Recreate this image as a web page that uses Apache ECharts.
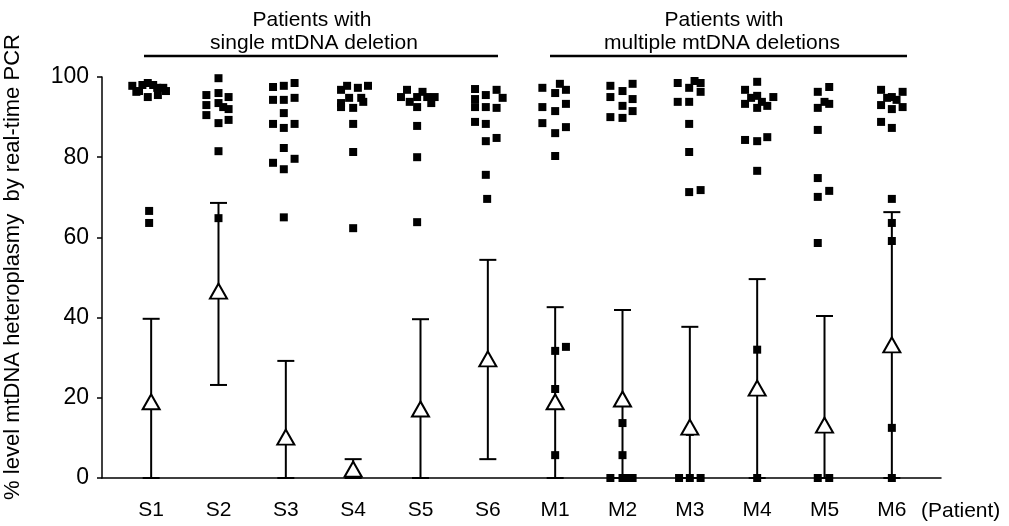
<!DOCTYPE html>
<html><head><meta charset="utf-8">
<script src="https://cdn.jsdelivr.net/npm/echarts@6/dist/echarts.min.js"></script>
<style>html,body{margin:0;padding:0;background:#fff}#chart{width:1009px;height:526px}</style>
</head><body><div id="chart"></div>
<script>
const patients = ['S1','S2','S3','S4','S5','S6','M1','M2','M3','M4','M5','M6'];
const yTicks = [0, 20, 40, 60, 80, 100];
const meanValues  = [19, 46.6, 10.2, 2.2, 17.2, 29.7, 19, 19.7, 12.7, 22.4, 13.2, 33.2];
const lowerValues = [0, 23.2, 0, 0, 0, 4.7, 0, 0, 0, 0, 0, 0];
const upperValues = [39.7, 68.6, 29.2, 4.7, 39.6, 54.4, 42.6, 41.9, 37.7, 49.6, 40.4, 66.3];
// per patient: [horizontal jitter inside the column (category units), % heteroplasmy]
const samplesS1 = [[-0.28,97.8],[-0.22,96.3],[-0.18,96.5],[-0.13,98],[-0.05,98.5],[-0.05,95],[0.03,98],[0.09,97.3],[0.10,95.5],[0.18,97.3],[0.22,96.5],[-0.03,66.6],[-0.03,63.6]];
const samplesS2 = [[0,99.7],[-0.18,95.5],[-0.18,93],[-0.18,90.5],[0,96],[0.15,95],[0,93.5],[0.07,92.5],[0.15,92],[0,88.5],[0.15,89.3],[0,81.5],[0,64.8]];
const samplesS3 = [[-0.19,97.5],[-0.19,94.3],[-0.03,97.8],[0.13,98.5],[-0.03,94.3],[0.13,94.8],[-0.03,91],[-0.19,88.3],[-0.03,87.3],[0.13,88.3],[-0.03,82.3],[-0.19,78.6],[0.13,79.6],[-0.03,77],[-0.03,65]];
const samplesS4 = [[-0.18,96.8],[-0.09,97.8],[0.07,97.3],[0.22,97.8],[-0.18,93.5],[-0.06,94.8],[0.12,94.8],[-0.18,92.5],[0,92.3],[0.15,93.8],[0,88.3],[0,81.3],[0,62.3]];
const samplesS5 = [[-0.29,95],[-0.2,96.8],[-0.16,93.8],[-0.05,95],[-0.05,92.5],[0.03,96.3],[0.1,95],[0.16,93.5],[0.21,95],[-0.05,87.8],[-0.05,80],[-0.05,63.8]];
const samplesS6 = [[-0.19,97],[-0.19,94.5],[-0.19,92.5],[-0.03,95.5],[0.13,96.8],[0.22,94.8],[-0.03,92.5],[0.13,92.3],[-0.19,88.8],[-0.03,88.3],[-0.03,84],[0.13,84.8],[-0.03,75.6],[-0.01,69.6]];
const samplesM1 = [[-0.19,97.3],[-0.19,92.5],[-0.19,88.5],[0,96],[0.07,98.3],[0.16,96.8],[0,91.5],[0.16,93.3],[0,86],[0.16,87.5],[0,80.3],[0,31.7],[0.16,32.7],[0,22.2],[0,5.7]];
const samplesM2 = [[-0.18,97.8],[-0.18,95],[0,96.5],[0.15,98.3],[0,92.8],[0.15,94.5],[0.15,91.5],[-0.18,90],[0,89.8],[0,13.7],[0,5.7],[-0.18,0],[0,0],[0.08,0],[0.15,0]];
const samplesM3 = [[-0.18,98.5],[-0.18,93.8],[-0.01,97.3],[0.07,99],[0.16,98.5],[0.16,96.3],[-0.01,93.8],[-0.01,88.3],[-0.01,81.3],[-0.01,71.3],[0.16,71.8],[0,11.5],[-0.16,0],[0,0],[0.16,0]];
const samplesM4 = [[0,98.8],[-0.18,96.8],[-0.18,93.3],[0,95.3],[-0.09,94.8],[0,92.3],[0.07,93.8],[0.15,92.8],[0.24,95],[-0.18,84.3],[0,84],[0.15,85],[0,76.6],[0,32],[0,0]];
const samplesM5 = [[-0.1,96.3],[0.07,97.5],[-0.1,92.3],[0,93.8],[0.07,93.3],[-0.1,86.8],[-0.1,74.8],[0.07,71.6],[-0.1,70.1],[-0.1,58.6],[-0.1,0],[0.07,0]];
const samplesM6 = [[-0.16,96.8],[0,95],[0.16,96.3],[0.07,94.3],[-0.07,94.8],[-0.16,93],[0,92],[0.16,92.5],[-0.16,88.8],[0,87.3],[0,69.6],[0,63.6],[0,59.1],[0,12.5],[0,0]];
const samples = [samplesS1,samplesS2,samplesS3,samplesS4,samplesS5,samplesS6,samplesM1,samplesM2,samplesM3,samplesM4,samplesM5,samplesM6];
const yAxisTitle = '% level mtDNA heteroplasmy  by real-time PCR';
const groupTitles = [['Patients with','single mtDNA deletion'],['Patients with','multiple mtDNA deletions']];
const xAxisUnit = '(Patient)';

const FONT = "'Liberation Sans', Arial, Helvetica, sans-serif";
const squareData = [];
samples.forEach((arr, i) => arr.forEach(([dx, v]) => squareData.push([i + dx, v])));
const barData = patients.map((_, i) => [i, lowerValues[i], upperValues[i]]);
const meanData = patients.map((_, i) => [i, meanValues[i]]);

const chart = echarts.init(document.getElementById('chart'), null, {renderer: 'canvas'});
const black = '#000';
const txt = (s, x, y, align) => ({type: 'text', x: x, y: y,
  style: {text: s, fontSize: 21, fontFamily: FONT, fill: black, align: align || 'center', verticalAlign: 'middle'}});
chart.setOption({
  animation: false,
  backgroundColor: '#fff',
  grid: {left: 102, right: 68, top: 77, bottom: 48, containLabel: false},
  xAxis: {
    type: 'value', min: -0.73, max: 11.73,
    axisLine: {show: true, onZero: false, lineStyle: {color: black, width: 1.5}},
    axisTick: {show: false},
    splitLine: {show: false},
    axisLabel: {
      customValues: patients.map((_, i) => i),
      formatter: v => patients[Math.round(v)] || '',
      fontSize: 21, color: black, fontFamily: FONT, margin: 22
    }
  },
  yAxis: {
    type: 'value', min: yTicks[0], max: yTicks[yTicks.length - 1], interval: 20,
    axisLine: {show: true, onZero: false, lineStyle: {color: black, width: 1.5}},
    axisTick: {show: true, length: 5, lineStyle: {color: black, width: 1.5}},
    splitLine: {show: false},
    axisLabel: {fontSize: 23, color: black, fontFamily: FONT, margin: 13}
  },
  graphic: [
    {type: 'text', x: 13, y: 267, rotation: Math.PI / 2,
     style: {text: yAxisTitle, fontSize: 22, fontFamily: FONT, fill: black, align: 'center', verticalAlign: 'middle'}},
    txt(groupTitles[0][0], 312, 20),
    txt(groupTitles[0][1], 314, 43),
    {type: 'line', shape: {x1: 144, y1: 56, x2: 498, y2: 56}, style: {stroke: black, lineWidth: 2.5}},
    txt(groupTitles[1][0], 724, 20),
    txt(groupTitles[1][1], 722, 43),
    {type: 'line', shape: {x1: 550, y1: 56, x2: 907, y2: 56}, style: {stroke: black, lineWidth: 2.5}},
    txt(xAxisUnit, 921, 511, 'left')
  ],
  series: [
    {
      type: 'custom', data: barData, z: 2, clip: false,
      renderItem: (params, api) => {
        const x = api.value(0), lo = api.value(1), hi = api.value(2);
        const pLo = api.coord([x, lo]), pHi = api.coord([x, hi]);
        const w = 8.5;
        const st = {stroke: black, lineWidth: 2};
        return {type: 'group', children: [
          {type: 'line', shape: {x1: pLo[0], y1: pLo[1], x2: pHi[0], y2: pHi[1]}, style: st},
          {type: 'line', shape: {x1: pHi[0] - w, y1: pHi[1], x2: pHi[0] + w, y2: pHi[1]}, style: st},
          {type: 'line', shape: {x1: pLo[0] - w, y1: pLo[1], x2: pLo[0] + w, y2: pLo[1]}, style: st}
        ]};
      }
    },
    {type: 'scatter', data: squareData, symbol: 'rect', symbolSize: 8, z: 3, clip: false,
     itemStyle: {color: black, opacity: 1}},
    {type: 'scatter', data: meanData, symbol: 'triangle', symbolSize: [17, 15], z: 4, clip: false,
     itemStyle: {color: '#fff', borderColor: black, borderWidth: 2, opacity: 1}}
  ]
});
</script></body></html>
